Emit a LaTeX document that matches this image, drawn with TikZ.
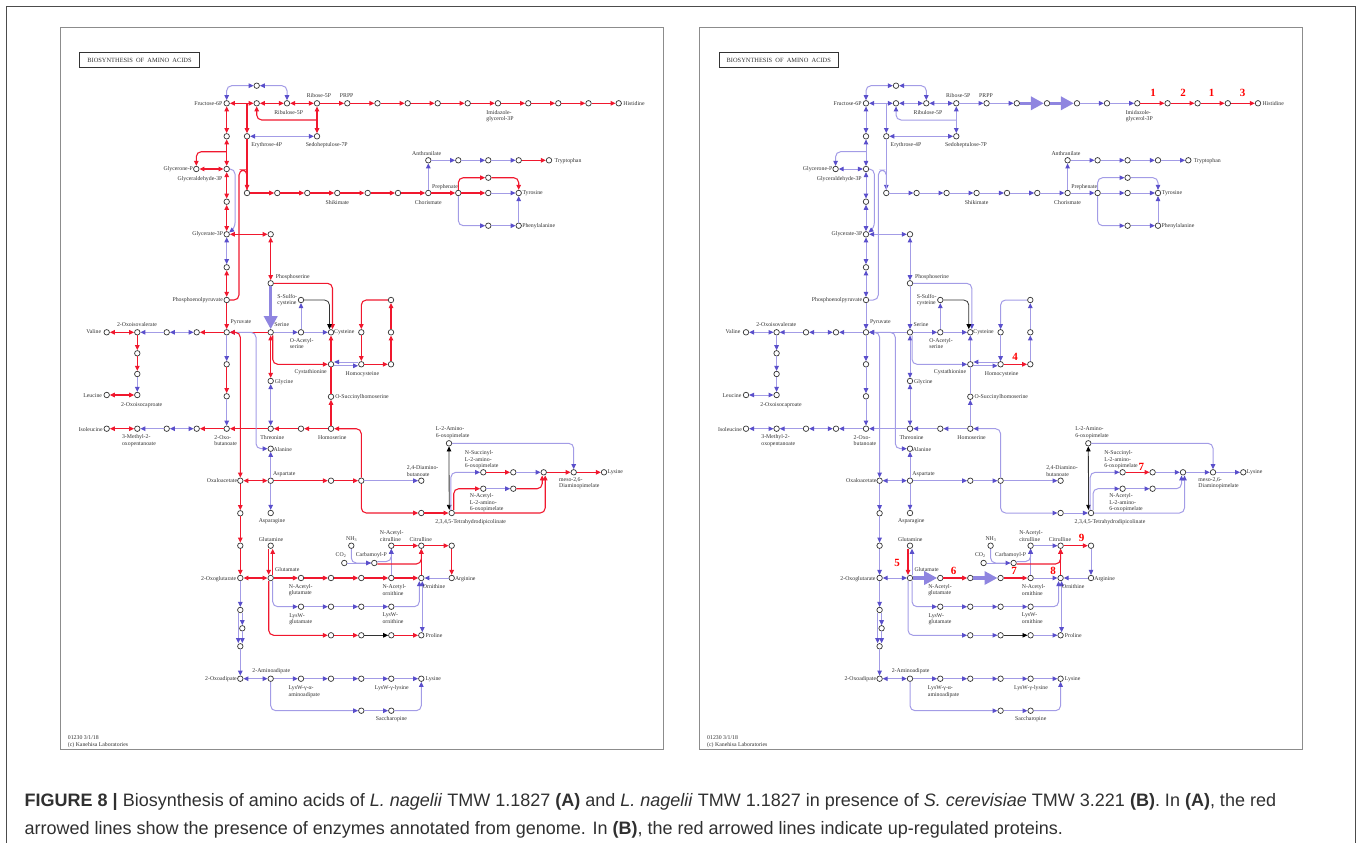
\documentclass[tikz,border=0pt]{standalone}
\usepackage{fontspec}
\setmainfont{Liberation Serif}
\newfontfamily\capfont{Liberation Sans}
\usetikzlibrary{arrows.meta}
\definecolor{lineblue}{HTML}{A39CE6}
\definecolor{tipblue}{HTML}{5A4FCB}
\definecolor{fatblue}{HTML}{8F85E0}
\definecolor{linered}{HTML}{F0182E}
\definecolor{cpdgray}{HTML}{333333}
\definecolor{txtgray}{HTML}{303030}
\definecolor{framegray}{HTML}{8C8C8C}
\tikzset{
	cpd/.style={circle,draw=cpdgray,fill=white,line width=.7pt,inner sep=0pt,minimum size=5.5pt},
	txt/.style={font=\fontsize{5.8}{6.4}\selectfont,text=txtgray,inner sep=0pt,align=left},
	num/.style={font=\fontsize{11}{11}\selectfont\bfseries,text=red,inner sep=0pt},
	cpt/.style={font=\capfont\fontsize{18}{22}\selectfont,text=txtgray,inner sep=0pt,anchor=base west},
	blu/.style={draw=lineblue,line width=1pt,>={Triangle[length=5pt,width=4.5pt,color=tipblue]}},
	rd/.style={draw=linered,line width=1.1pt,>={Triangle[length=5pt,width=4.5pt]}},
	blk/.style={draw=black!80,line width=.8pt,>={Triangle[length=5pt,width=4.5pt,color=black]}},
	fat/.style={draw=fatblue,line width=3.5pt,-{Triangle[length=13pt,width=13pt]}},
	elb/.style={rounded corners=5pt},
	panela/.style={name prefix=a-,ra/.style={rd},tha/.style={fat},thb/.style={rd,->}},
	panelb/.style={shift={(639.3,0)},name prefix=b-,ra/.style={blu},tha/.style={blu,->},thb/.style={fat}}
}
\newcommand{\pathway}{
	\draw[framegray,line width=.8pt] (60.5,27) rectangle (663,749.3);
	\node[txt,draw=cpdgray,line width=.9pt,minimum width=119.6pt,minimum height=14.3pt,align=center,font=\fontsize{6.4}{7}\selectfont] (title) at (139.5,60) {BIOSYNTHESIS\ \ OF\ \ AMINO\ \ ACIDS};
	\node[cpd] (fru) at (226.7,103.3) {}; \node[cpd] (top) at (256.7,85.7) {}; \node[cpd] (xa) at (256.7,103.3) {};
	\node[cpd] (rbl) at (287,103.3) {}; \node[cpd] (rib) at (317,103.3) {}; \node[cpd] (prpp) at (347.3,103.3) {};
	\node[cpd] (h1) at (377.5,103.3) {}; \node[cpd] (h2) at (407.7,103.3) {}; \node[cpd] (h3) at (437.7,103.3) {};
	\node[cpd] (h4) at (467.7,103.3) {}; \node[cpd] (imi) at (498,103.3) {}; \node[cpd] (h5) at (528.3,103.3) {};
	\node[cpd] (h6) at (558.3,103.3) {}; \node[cpd] (h7) at (588.5,103.3) {}; \node[cpd] (his) at (618.7,103.3) {};
	\node[cpd] (f1) at (226.7,136.3) {}; \node[cpd] (ery) at (247,136.3) {}; \node[cpd] (sed) at (317,136.3) {};
	\node[cpd] (glp) at (196.3,169) {}; \node[cpd] (gap) at (226.7,169) {};
	\node[cpd] (s1) at (247,193) {}; \node[cpd] (s2) at (277.3,193) {}; \node[cpd] (s3) at (307.3,193) {};
	\node[cpd] (shi) at (337.3,193) {}; \node[cpd] (s4) at (367.7,193) {}; \node[cpd] (s5) at (398,193) {};
	\node[cpd] (cho) at (428.3,193) {}; \node[cpd] (pre) at (458.3,193) {}; \node[cpd] (y1) at (488.3,193) {};
	\node[cpd] (tyr) at (518.7,193) {}; \node[cpd] (y2) at (488.3,177.7) {};
	\node[cpd] (p1) at (488.3,225.7) {}; \node[cpd] (phe) at (518.7,225.7) {};
	\node[cpd] (ant) at (428.3,160.3) {}; \node[cpd] (t1) at (458.3,160.3) {}; \node[cpd] (t2) at (488.3,160.3) {};
	\node[cpd] (t3) at (518.7,160.3) {}; \node[cpd] (trp) at (549,160.3) {};
	\node[cpd] (f2) at (226.7,201.7) {}; \node[cpd] (gly3) at (226.7,234.3) {}; \node[cpd] (sp) at (270.7,234.3) {};
	\node[cpd] (f3) at (226.7,267.3) {}; \node[cpd] (pep) at (226.7,300) {}; \node[cpd] (pser) at (270.7,283.3) {};
	\node[cpd] (ssc) at (301,300) {}; \node[cpd] (ser) at (270.7,332.3) {}; \node[cpd] (pyr) at (226.7,332.3) {};
	\node[cpd] (oas) at (301,332.3) {}; \node[cpd] (cys) at (331,332.3) {}; \node[cpd] (m1) at (361.3,332.3) {};
	\node[cpd] (m2) at (391,332.3) {}; \node[cpd] (m3) at (391,300) {}; \node[cpd] (cth) at (331,364.3) {};
	\node[cpd] (hcy) at (361.3,364.3) {}; \node[cpd] (met) at (391,364.3) {};
	\node[cpd] (val) at (106.7,332.3) {}; \node[cpd] (kiv) at (137.3,332.3) {}; \node[cpd] (v1) at (166.7,332.3) {};
	\node[cpd] (v2) at (196.7,332.3) {}; \node[cpd] (l1) at (137.3,353.3) {}; \node[cpd] (l2) at (137.3,374) {};
	\node[cpd] (kic) at (137.3,395) {}; \node[cpd] (leu) at (106.7,395) {};
	\node[cpd] (pb1) at (226.7,364.3) {}; \node[cpd] (pb2) at (226.7,396.3) {}; \node[cpd] (obu) at (226.7,428.7) {};
	\node[cpd] (thr) at (270.7,428.7) {}; \node[cpd] (t4) at (301,428.7) {}; \node[cpd] (hse) at (331,428.7) {};
	\node[cpd] (ile) at (106.7,428.7) {}; \node[cpd] (kmv) at (137.3,428.7) {}; \node[cpd] (i1) at (166.7,428.7) {};
	\node[cpd] (i2) at (196.7,428.7) {}; \node[cpd] (gly) at (270.7,381) {}; \node[cpd] (osh) at (331,396.7) {};
	\node[cpd] (ala) at (270.7,448.7) {}; \node[cpd] (oaa) at (240.3,480.7) {}; \node[cpd] (asp) at (270.7,480.7) {};
	\node[cpd] (a1) at (331,480.7) {}; \node[cpd] (a2) at (361.3,480.7) {}; \node[cpd] (dab) at (421.3,480.7) {};
	\node[cpd] (asn) at (270.7,513) {}; \node[cpd] (o1) at (240.3,513.3) {}; \node[cpd] (o2) at (240.3,545.7) {};
	\node[cpd] (tet) at (451.7,513) {}; \node[cpd] (d1) at (421.3,513) {}; \node[cpd] (ami) at (449,443.3) {};
	\node[cpd] (nsu) at (483.3,472.3) {}; \node[cpd] (k1) at (513.3,472.3) {}; \node[cpd] (k2) at (543.7,472.3) {};
	\node[cpd] (dap) at (573.7,472.3) {}; \node[cpd] (lys) at (604,472.3) {};
	\node[cpd] (nal) at (483.3,488.7) {}; \node[cpd] (k3) at (513.3,488.7) {};
	\node[cpd] (akg) at (240.3,578) {}; \node[cpd] (glu) at (270.7,578) {}; \node[cpd] (nag) at (301,578) {};
	\node[cpd] (g1) at (331,578) {}; \node[cpd] (g2) at (361.3,578) {}; \node[cpd] (nao) at (391.3,578) {};
	\node[cpd] (orn) at (421.3,578) {}; \node[cpd] (arg) at (451.7,578) {};
	\node[cpd] (gln) at (270.7,545.7) {}; \node[cpd] (nh3) at (351.3,545.7) {}; \node[cpd] (co2) at (344.3,563) {};
	\node[cpd] (cap) at (374.3,563) {}; \node[cpd] (nac) at (391.3,545.7) {}; \node[cpd] (cit) at (421.3,545.7) {};
	\node[cpd] (c1) at (451.7,545.7) {};
	\node[cpd] (lwg) at (301,606.7) {}; \node[cpd] (w1) at (331,606.7) {}; \node[cpd] (w2) at (361.3,606.7) {};
	\node[cpd] (lwo) at (391.3,606.7) {}; \node[cpd] (u1) at (240.3,610) {}; \node[cpd] (u2) at (242.3,628.3) {};
	\node[cpd] (u3) at (240.3,646.3) {}; \node[cpd] (q1) at (331,635.3) {}; \node[cpd] (q2) at (361.3,635.3) {};
	\node[cpd] (q3) at (391.3,635.3) {}; \node[cpd] (pro) at (421.3,635.3) {};
	\node[cpd] (oad) at (240.3,678.7) {}; \node[cpd] (aad) at (270.7,678.7) {}; \node[cpd] (b1) at (301,678.7) {};
	\node[cpd] (b2) at (331,678.7) {}; \node[cpd] (b3) at (361.3,678.7) {}; \node[cpd] (lgl) at (391.3,678.7) {};
	\node[cpd] (lyb) at (421.3,678.7) {}; \node[cpd] (sa1) at (361.3,710.7) {}; \node[cpd] (sac) at (391.3,710.7) {};
	\coordinate (ja) at (247,103.3); \coordinate (jb) at (317,120); \coordinate (jc) at (226.7,151.7);
	\coordinate (je) at (235,228); \coordinate (jf) at (239,300); \coordinate (jg) at (239,170);
	\coordinate (jh) at (247,170); \coordinate (jj) at (256,390);
	\draw[blu,<->,elb] (fru) |- (top); \draw[blu,<->,elb] (rbl) |- (top);
	\draw[ra,<->] (fru) -- (xa); \draw[ra,<->] (xa) -- (rbl); \draw[ra,<->] (rbl) -- (rib);
	\draw[ra,->] (rib) -- (prpp); \draw[ra,->] (prpp) -- (h1); \draw[thb] (h1) -- (h2); \draw[thb] (h2) -- (h3);
	\draw[ra,->] (h3) -- (h4); \draw[ra,->] (h4) -- (imi); \draw[rd,->] (imi) -- (h5); \draw[rd,->] (h5) -- (h6);
	\draw[rd,->] (h6) -- (h7); \draw[rd,->] (h7) -- (his);
	\draw[ra,->] (ja) -- (ery); \draw[ra,->] (ery) -- (s1); \draw[ra,<->] (rib) -- (sed);
	\draw[ra,->,elb] (jb) -| (xa); \draw[blu,<->] (ery) -- (sed);
	\draw[ra,<->] (fru) -- (f1); \draw[ra,<->] (f1) -- (gap); \draw[ra,->,elb] (jc) -| (glp);
	\draw[ra,<->] (glp) -- (gap); \draw[ra,<->] (gap) -- (f2); \draw[ra,<->] (f2) -- (gly3);
	\draw[blu,<->] (gly3) -- (f3); \draw[ra,<->] (f3) -- (pep); \draw[ra,->] (pep) -- (pyr);
	\draw[blu,->,elb] (gap) -| (je) -- (gly3);
	\draw[ra,elb] (pep) -- (jf) -- (jg) -- (jh) -- (s1);
	\draw[ra,->] (s1) -- (s2); \draw[ra,->] (s2) -- (s3); \draw[ra,->] (s3) -- (shi); \draw[ra,->] (shi) -- (s4);
	\draw[ra,->] (s4) -- (s5); \draw[ra,->] (s5) -- (cho); \draw[ra,->] (cho) -- (pre); \draw[ra,->] (pre) -- (y1);
	\draw[blu,->] (y1) -- (tyr); \draw[ra,->,elb] (pre) |- (y2); \draw[ra,->,elb] (y2) -| (tyr);
	\draw[blu,->,elb] (pre) |- (p1); \draw[blu,->] (p1) -- (phe); \draw[blu,->] (phe) -- (tyr);
	\draw[blu,->] (cho) -- (ant); \draw[blu,->] (ant) -- (t1); \draw[blu,->] (t1) -- (t2); \draw[blu,->] (t2) -- (t3);
	\draw[ra,->] (t3) -- (trp);
	\draw[ra,<->] (gly3) -- (sp); \draw[ra,<->] (sp) -- (pser); \draw[tha] (pser) -- (ser);
	\draw[ra,->,elb] (pser) -| ([xshift=1.5pt]cys.north); \draw[blk,->,elb] (ssc) -| ([xshift=-1.5pt]cys.north);
	\draw[blu,->] (oas) -- (ssc); \draw[blu,->] (ser) -- (oas); \draw[blu,->] (oas) -- (cys); \draw[ra,->] (ser) -- (pyr);
	\draw[ra,<->] (ser) -- (gly); \draw[blu,<->] (gly) -- (thr); \draw[ra,->,elb] ([xshift=2pt]ser.south) |- (cth);
	\draw[ra,->] (cth) -- (cys); \draw[ra] (osh) -- (cth); \draw[ra,->] (hse) -- (osh);
	\draw[ra,->] (hse) -- (t4); \draw[ra,->] (t4) -- (thr); \draw[ra,->] (thr) -- (obu);
	\draw[blu,->] ([yshift=2.3pt]hcy.west) -- ([yshift=2.3pt]cth.east); \draw[blu,->] ([yshift=-1.5pt]cth.east) -- ([yshift=-1.5pt]hcy.west);
	\draw[ra,->,elb] (m3) -| (m1); \draw[ra,->] (m1) -- (hcy); \draw[rd,->] (hcy) -- (met);
	\draw[ra,->] (met) -- (m2); \draw[ra,->] (m2) -- (m3);
	\draw[ra,->] (pyr) -- (v2); \draw[blu,<->] (v2) -- (v1); \draw[blu,->] (v1) -- (kiv); \draw[ra,<->] (val) -- (kiv);
	\draw[ra,->] (kiv) -- (l1); \draw[ra,->] (l1) -- (l2); \draw[blu,->] (l2) -- (kic); \draw[ra,<->] (leu) -- (kic);
	\draw[ra,->] (obu) -- (i2); \draw[blu,<->] (i2) -- (i1); \draw[blu,->] (i1) -- (kmv); \draw[ra,<->] (ile) -- (kmv);
	\draw[blu,->] (pyr) -- (pb1); \draw[ra,->] (pb1) -- (pb2); \draw[blu,->] (pb2) -- (obu);
	\draw[blu,<->,elb] (pyr) -| (jj) |- (ala); \draw[ra,<->,elb] (pyr) -| (oaa);
	\draw[blu,->] (asp) -- (ala); \draw[blu,->] (asp) -- (asn); \draw[ra,<->] (oaa) -- (asp);
	\draw[ra,->] (asp) -- (a1); \draw[ra,->] (a1) -- (a2); \draw[blu,->] (a2) -- (dab);
	\draw[ra,->,elb] (a2) |- (hse); \draw[ra,->,elb] (a2) |- (d1); \draw[ra,->] (d1) -- (tet);
	\draw[ra,->] (oaa) -- (o1); \draw[ra,->] (o1) -- (o2); \draw[ra,->] (o2) -- (akg);
	\draw[blk,<->] (ami) -- ([xshift=-2.5pt]tet.north); \draw[blu,->,elb] (ami) -| (dap);
	\draw[blu,->,elb] ([xshift=-.8pt]tet.north) |- (nsu); \draw[ra,->,elb] ([xshift=2pt]tet.north) |- (nal);
	\draw[rd,->] (nsu) -- (k1); \draw[blu,->] (k1) -- (k2); \draw[ra,->] (k2) -- (dap); \draw[ra,->] (dap) -- (lys);
	\draw[blu,->] (nal) -- (k3); \draw[ra,->,elb] (k3) -| ([xshift=-1.5pt]k2.south); \draw[ra,->,elb] (tet) -| ([xshift=1.5pt]k2.south);
	\draw[ra,<->] (akg) -- (glu); \draw[rd,->] ([xshift=-2pt]gln.south) -- ([xshift=-2pt]glu.north);
	\draw[ra,->] ([xshift=2pt]glu.north) -- ([xshift=2pt]gln.south);
	\draw[thb] (glu) -- (nag); \draw[rd,->] (nag) -- (g1); \draw[thb] (g1) -- (g2); \draw[rd,->] (g2) -- (nao); \draw[ra,->] (nao) -- (orn);
	\draw[blu,->,elb] ([xshift=2pt]glu.south) |- (lwg); \draw[blu,->] (lwg) -- (w1); \draw[blu,->] (w1) -- (w2); \draw[blu,->] (w2) -- (lwo);
	\draw[blu,->,elb] (lwo) -| ([xshift=-2pt]orn.south);
	\draw[ra,->,elb] ([xshift=-2pt]glu.south) |- (q1); \draw[ra,->] (q1) -- (q2); \draw[blk,->] (q2) -- (q3); \draw[ra,->] (q3) -- (pro);
	\draw[blu,<->] ([xshift=1pt]orn.south) -- ([xshift=1pt]pro.north);
	\draw[blu,->] (nao) -- (nac); \draw[blu,->,elb] ([yshift=1.5pt]cap.east) -| (nac); \draw[rd,->,elb] ([yshift=-1pt]cap.east) -| (cit);
	\draw[rd,->] (orn) -- (cit); \draw[ra,->] (nac) -- (cit); \draw[rd,->] (cit) -- (c1); \draw[ra,->] (c1) -- (arg); \draw[blu,->] (arg) -- (orn);
	\draw[blu,elb] (nh3) |- (cap); \draw[blu,->] (co2) -- (cap);
	\draw[blu,->] (akg) -- (u1); \draw[blu,->] ([xshift=-2pt]u1.south) -- ([xshift=-2pt]u3.north);
	\draw[blu,->] ([xshift=2pt]u1.south) -- (u2); \draw[blu,->] (u2) -- ([xshift=2pt]u3.north); \draw[blu,->] (u3) -- (oad);
	\draw[blu,<->] (oad) -- (aad); \draw[blu,->] (aad) -- (b1); \draw[blu,->] (b1) -- (b2); \draw[blu,->] (b2) -- (b3);
	\draw[blu,->] (b3) -- (lgl); \draw[blu,->] (lgl) -- (lyb);
	\draw[blu,->,elb] (aad) |- (sa1); \draw[blu,->] (sa1) -- (sac); \draw[blu,->,elb] (sac) -| (lyb);
	\node[txt] (tfru) at (208.3,103.3) {Fructose-6P}; \node[txt] (trbl) at (288.7,112.7) {Ribulose-5P};
	\node[txt] (trib) at (319,96) {Ribose-5P}; \node[txt] (tprpp) at (346.7,96) {PRPP};
	\node[txt] (tery) at (266.7,145.3) {Erythrose-4P}; \node[txt] (tsed) at (326.7,145.3) {Sedoheptulose-7P};
	\node[txt] (tglp) at (178.3,169) {Glycerone-P}; \node[txt] (tgap) at (200,179.3) {Glyceraldehyde-3P};
	\node[txt] (tshi) at (337.3,202.7) {Shikimate}; \node[txt] (tgly3) at (207.7,234.3) {Glycerate-3P};
	\node[txt] (tpser) at (292.7,277.3) {Phosphoserine}; \node[txt] (tpep) at (197.7,300) {Phosphoenolpyruvate};
	\node[txt] (tssc) at (287.3,300) {S-Sulfo-\\cysteine}; \node[txt] (tpyr) at (241,322.3) {Pyruvate};
	\node[txt] (tser) at (281.7,325) {Serine}; \node[txt] (tkiv) at (137,324.7) {2-Oxoisovalerate};
	\node[txt] (tval) at (93.7,332) {Valine}; \node[txt] (tcys) at (344.3,332) {Cysteine};
	\node[txt] (timi) at (500,116) {Imidazole-\\glycerol-3P}; \node[txt] (this) at (634,103.7) {Histidine};
	\node[txt] (tant) at (426.7,153.3) {Anthranilate}; \node[txt] (ttrp) at (568,160.7) {Tryptophan};
	\node[txt] (tpre) at (445,187.3) {Prephenate}; \node[txt] (tcho) at (428.3,202.7) {Chorismate};
	\node[txt] (ttyr) at (532.7,193.3) {Tyrosine}; \node[txt] (tphe) at (538.7,226.3) {Phenylalanine};
	\node[txt] (toas) at (301.7,343.3) {O-Acetyl-\\serine}; \node[txt] (tcth) at (310.7,371.7) {Cystathionine};
	\node[txt] (thcy) at (362.4,374) {Homocysteine}; \node[txt] (tgly) at (284,381.7) {Glycine};
	\node[txt] (tosh) at (362,397) {O-Succinylhomoserine}; \node[txt] (tkic) at (141.7,404.7) {2-Oxoisocaproate};
	\node[txt] (tleu) at (92.7,395.3) {Leucine}; \node[txt] (tile) at (90.7,429.3) {Isoleucine};
	\node[txt] (tkmv) at (139,440.7) {3-Methyl-2-\\oxopentanoate}; \node[txt] (tobu) at (225.7,440.7) {2-Oxo-\\butanoate};
	\node[txt] (tthr) at (272.3,437.3) {Threonine}; \node[txt] (thse) at (332.3,437.3) {Homoserine};
	\node[txt] (tala) at (282.7,449.3) {Alanine}; \node[txt] (toaa) at (222,481) {Oxaloacetate};
	\node[txt] (tasp) at (284.3,474.3) {Aspartate}; \node[txt] (tasn) at (272,521.7) {Asparagine};
	\node[txt] (tgln) at (271,539.3) {Glutamine}; \node[txt] (tnh3) at (351.7,539.3) {NH\textsubscript{3}};
	\node[txt] (tco2) at (341,555.3) {CO\textsubscript{2}}; \node[txt] (tami) at (452.7,432.7) {L-2-Amino-\\6-oxopimelate};
	\node[txt] (tdab) at (422.7,471) {2,4-Diamino-\\butanoate}; \node[txt] (tnsu) at (481.7,460) {N-Succinyl-\\L-2-amino-\\6-oxopimelate};
	\node[txt] (tdap) at (579.3,483.3) {meso-2,6-\\Diaminopimelate}; \node[txt] (tlys) at (615.3,472.7) {Lysine};
	\node[txt] (tnal) at (486.7,502.7) {N-Acetyl-\\L-2-amino-\\6-oxopimelate}; \node[txt] (ttet) at (470.7,522) {2,3,4,5-Tetrahydrodipicolinate};
	\node[txt] (tnac) at (391.7,536) {N-Acetyl-\\citrulline}; \node[txt] (tcit) at (420.7,539.3) {Citrulline};
	\node[txt] (tcap) at (371.3,555) {Carbamoyl-P}; \node[txt] (tnao) at (394.3,590) {N-Acetyl-\\ornithine};
	\node[txt] (torn) at (434,587) {Ornithine}; \node[txt] (targ) at (465.3,579) {Arginine};
	\node[txt] (tlwo) at (393,618.3) {LysW-\\ornithine}; \node[txt] (tpro) at (434,635.3) {Proline};
	\node[txt] (tlyb) at (433.3,678.7) {Lysine}; \node[txt] (tlgl) at (391.7,688.3) {LysW-γ-lysine};
	\node[txt] (tlaa) at (304.3,691.7) {LysW-γ-α-\\aminoadipate}; \node[txt] (taad) at (271.3,671) {2-Aminoadipate};
	\node[txt] (toad) at (221,679) {2-Oxoadipate}; \node[txt] (takg) at (218.7,578.7) {2-Oxoglutarate};
	\node[txt] (tglu) at (287.3,570) {Glutamate}; \node[txt] (tnag) at (300.7,590) {N-Acetyl-\\glutamate};
	\node[txt] (tlwg) at (300.7,619) {LysW-\\glutamate}; \node[txt] (tsac) at (391.4,719) {Saccharopine};
	\node[txt,anchor=west] (tfoot) at (67.7,741.5) {01230 3/1/18\\(c) Kanehisa Laboratories};
}
\begin{document}
\begin{tikzpicture}[x=1pt,y=-1pt]
	\useasboundingbox (0,0) rectangle (1358,843);
	\coordinate (fl) at (6.7,843); \coordinate (ftl) at (6.7,6); \coordinate (ftr) at (1355.5,6); \coordinate (fr) at (1355.5,843);
	\draw[black!70,line width=.9pt] (fl) -- (ftl) -- (ftr) -- (fr);
	\begin{scope}[panela]
		\pathway
	\end{scope}
	\begin{scope}[panelb]
		\pathway
	\end{scope}
	\node[num] (n1) at (1153,93) {1}; \node[num] (n2) at (1183,93) {2}; \node[num] (n3) at (1211.7,93) {1}; \node[num] (n4) at (1242.7,93) {3};
	\node[num] (n5) at (1015,357) {4}; \node[num] (n6) at (897,563.3) {5}; \node[num] (n7) at (953.7,570.7) {6};
	\node[num] (n8) at (1014,570.7) {7}; \node[num] (n9) at (1053,570.7) {8}; \node[num] (n10) at (1081.7,538.3) {9};
	\node[num] (n11) at (1141.3,466.7) {7};
	\node[cpt] (cap1) at (24.5,806.7) {\textbf{FIGURE 8 |} Biosynthesis of amino acids of \textit{L. nagelii} TMW 1.1827 \textbf{(A)} and \textit{L. nagelii} TMW 1.1827 in presence of \textit{S. cerevisiae} TMW 3.221 \textbf{(B)}. In \textbf{(A)}, the red};
	\node[cpt] (cap2) at (24.5,834.7) {arrowed lines show the presence of enzymes annotated from genome. In \textbf{(B)}, the red arrowed lines indicate up-regulated proteins.};
\end{tikzpicture}
\end{document}
